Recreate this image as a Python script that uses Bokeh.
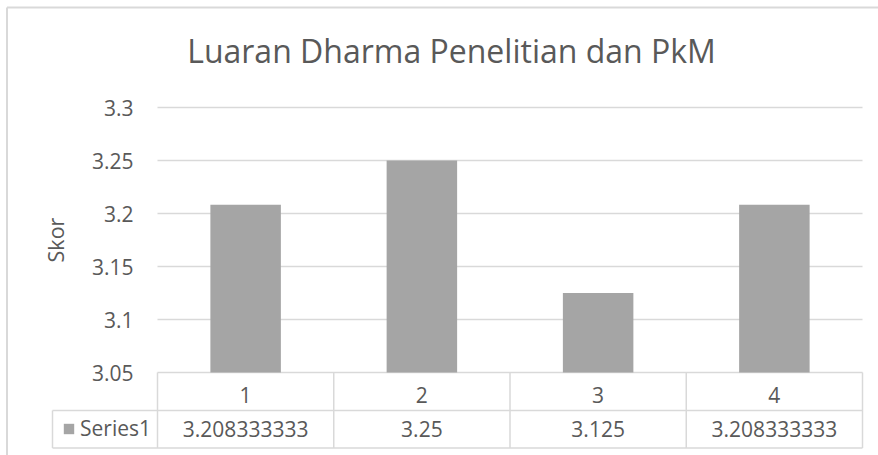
from bokeh.plotting import figure
from bokeh.models import (Range1d, FixedTicker, ColumnDataSource, Label, Legend, LegendItem)
from bokeh.embed import file_html
from bokeh.resources import INLINE
from bokeh.core.properties import value

# ---------------- data ----------------
title_text = "Luaran Dharma Penelitian dan PkM"
y_axis_label = "Skor"
series_name = "Series1"
categories = [1, 2, 3, 4]
category_labels = ["1", "2", "3", "4"]
values = [3.208333333, 3.25, 3.125, 3.208333333]
value_labels = ["3.208333333", "3.25", "3.125", "3.208333333"]
y_ticks = [3.05, 3.1, 3.15, 3.2, 3.25, 3.3]
y_tick_labels = ["3.05", "3.1", "3.15", "3.2", "3.25", "3.3"]

# ---------------- layout (canvas pixels) ----------------
W, H = 878, 455
PL, PR = 157, 862          # plot-area left / right
PY_TOP, PY_BOT = 107, 372  # pixel rows of first / last tick
PXX = (PR - PL) / len(categories)
PXY = (PY_BOT - PY_TOP) / (y_ticks[-1] - y_ticks[0])
X0 = categories[0] - 0.5
X1 = categories[-1] + 0.5
x_start = X0 - PL / PXX
x_end = X1 + (W - PR) / PXX
y_start = y_ticks[0] - (H - PY_BOT) / PXY
y_end = y_ticks[0] + PY_BOT / PXY


def xp(px):
    return x_start + px / PXX


def yp(py):
    return y_end - py / PXY


GREY_TXT = "#595959"
LINE = "#d9d9d9"
BAR = "#a5a5a5"
FONT = "Open Sans"
FS = "21px"

p = figure(width=W, height=H, output_backend="svg", toolbar_location=None,
           x_range=Range1d(x_start, x_end), y_range=Range1d(y_start, y_end),
           x_axis_location=None, min_border=0, min_border_left=0,
           min_border_right=0, min_border_top=0, min_border_bottom=0)
p.outline_line_color = None
p.background_fill_color = "white"
p.border_fill_color = "white"
p.xgrid.visible = False
p.ygrid.visible = False

ax = p.yaxis[0]
ax.fixed_location = X0
ax.bounds = (y_ticks[0], y_ticks[-1])
ax.ticker = FixedTicker(ticks=y_ticks)
ax.major_label_overrides = dict(zip(y_ticks, y_tick_labels))
ax.axis_line_color = None
ax.major_tick_line_color = None
ax.minor_tick_line_color = None
ax.major_tick_in = 0
ax.major_tick_out = 0
ax.major_label_standoff = 24
ax.major_label_text_font = FONT
ax.major_label_text_font_size = FS
ax.major_label_text_color = GREY_TXT
ax.axis_label = y_axis_label
ax.axis_label_text_font = FONT
ax.axis_label_text_font_size = "21.5px"
ax.axis_label_text_font_style = "normal"
ax.axis_label_text_color = GREY_TXT
ax.axis_label_standoff = 19

# horizontal gridlines at the tick values
p.segment(x0=X0, x1=X1, y0=y_ticks, y1=y_ticks, line_color=LINE, line_width=1.5)

src = ColumnDataSource(dict(x=categories, top=values))
bars = p.vbar(x="x", top="top", bottom=y_ticks[0], width=0.4, source=src,
              fill_color=BAR, line_color=None)

# ---------------- data table below the plot ----------------
ROW_MID, ROW_BOT = 410, 447.5
col_left = xp(52)
bounds = [c - 0.5 for c in categories] + [categories[-1] + 0.5]

p.segment(x0=bounds + [col_left], x1=bounds + [col_left],
          y0=[yp(PY_BOT)] * len(bounds) + [yp(ROW_MID)],
          y1=[yp(ROW_BOT)] * (len(bounds) + 1),
          line_color=LINE, line_width=1.5)
p.segment(x0=[col_left, col_left], x1=[X1, X1],
          y0=[yp(ROW_MID), yp(ROW_BOT)], y1=[yp(ROW_MID), yp(ROW_BOT)],
          line_color=LINE, line_width=1.5)

# chart border (left & top edges visible)
p.segment(x0=[xp(6.5), xp(6.5)], x1=[xp(6.5), xp(W + 5)],
          y0=[yp(H + 5), yp(7)], y1=[yp(7), yp(7)],
          line_color=LINE, line_width=2)

p.text(x=categories, y=[yp(394)] * len(categories), text=category_labels,
       text_align="center", text_baseline="middle", text_font=value(FONT),
       text_font_size=FS, text_color=GREY_TXT)
p.text(x=categories, y=[yp(428)] * len(categories), text=value_labels,
       text_align="center", text_baseline="middle", text_font=value(FONT),
       text_font_size=FS, text_color=GREY_TXT)

legend = Legend(items=[LegendItem(label=series_name, renderers=[bars])],
                location=(62, H - 442),
                glyph_width=13, glyph_height=13, label_height=13, label_standoff=5,
                padding=0, margin=0, spacing=0, border_line_color=None,
                background_fill_alpha=0, label_text_font=FONT,
                label_text_font_size=FS, label_text_color=GREY_TXT)
p.add_layout(legend, "center")

# title
p.add_layout(Label(x=xp(451), y=yp(50), text=title_text, text_align="center",
                   text_baseline="alphabetic", text_font=FONT, text_font_size="32px",
                   text_color=GREY_TXT))

open("out.html", "w").write(file_html(p, INLINE))
